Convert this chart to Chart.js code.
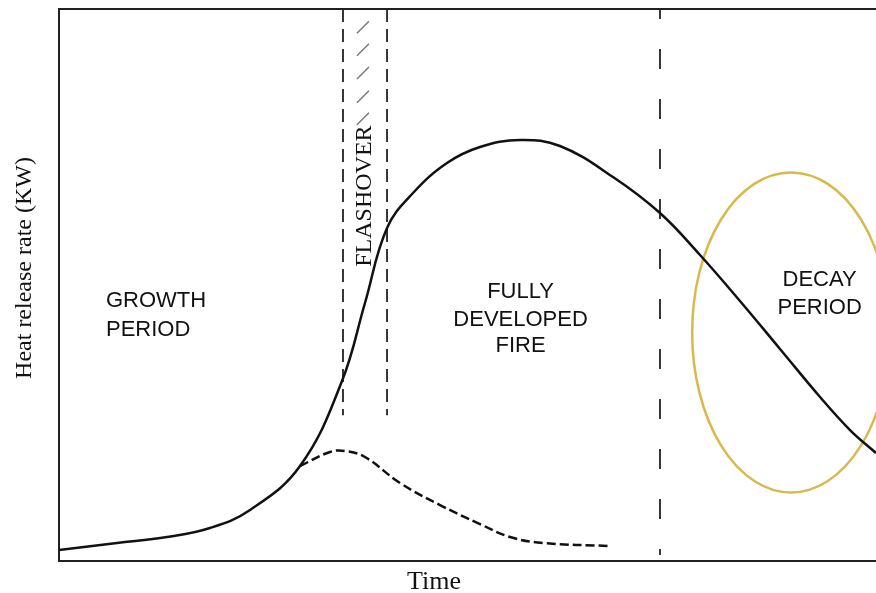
<!DOCTYPE html>
<html>
<head>
<meta charset="utf-8">
<script src="https://cdn.jsdelivr.net/npm/chart.js@4"></script>
<style>
  html, body { margin: 0; padding: 0; background: #fff; }
  #wrap { width: 876px; height: 593px; }
</style>
</head>
<body>
<div id="wrap"><canvas id="c" width="876" height="593"></canvas></div>
<script>
// ---- Data (time and heat release rate in normalized units 0..100) ----
const timeSolid = [0, 7.1, 13.22, 18.48, 23.38, 29.5, 34.64, 37.45, 40.15, 43.33, 47.49, 51.53, 56.43, 61.32, 67.81, 73.56, 78.46, 83.35, 88.25, 93.15, 96.82, 100];
const hrrSolid  = [2.0, 3.26, 4.35, 5.98, 9.24, 17.21, 32.61, 46.74, 60.33, 66.67, 72.1, 75.0, 76.27, 75.18, 69.57, 63.04, 55.43, 47.1, 38.41, 29.71, 23.73, 19.57];

const timeDashed = [29.5, 33.17, 35.01, 37.45, 41.74, 46.63, 51.53, 55.2, 59.24, 67.44];
const hrrDashed  = [17.21, 19.75, 19.93, 18.84, 14.13, 10.14, 6.7, 4.35, 3.26, 2.72];

const phaseBoundaryTime   = [34.76, 40.15, 73.56];
const phaseBoundaryBottom = [26.4, 26.4, 1.1];
const axisTop = 100;

const hatchTime = 37.2;
const hatchHrr  = [96.7, 92.6, 88.4, 84.1, 80.1];

const regionLabels = [
  { lines: ['GROWTH', 'PERIOD'], t: 5.75, v: [47.1, 41.8], align: 'left' },
  { lines: ['FULLY', 'DEVELOPED', 'FIRE'], t: 56.5, v: [48.7, 43.75, 39.0], align: 'center' },
  { lines: ['DECAY', 'PERIOD'], t: 93.1, v: [51.0, 45.9], align: 'center' }
];
const flashoverLabel = { text: 'FLASHOVER', t: 37.45, v: 66.1 };
const decayEllipse = { t: 89.6, v: 41.4, rt: 12.1, rv: 29.0 };

const xTitle = 'Time';
const yTitle = 'Heat release rate (KW)';

const toXY = (ts, vs) => ts.map((t, i) => ({ x: t, y: vs[i] }));

const boundaryDatasets = phaseBoundaryTime.map((t, i) => ({
  data: [{ x: t, y: axisTop }, { x: t, y: phaseBoundaryBottom[i] }],
  borderColor: '#222',
  borderWidth: 1.8,
  borderDash: i < 2 ? [13, 7] : [20, 30],
  borderDashOffset: i < 2 ? 0 : 10,
  pointRadius: 0,
  tension: 0
}));

const decorPlugin = {
  id: 'decor',
  beforeDatasetsDraw(chart) {
    const { ctx, scales: { x, y } } = chart;
    ctx.save();
    const cx = x.getPixelForValue(decayEllipse.t);
    const cy = y.getPixelForValue(decayEllipse.v);
    const rx = Math.abs(x.getPixelForValue(decayEllipse.t + decayEllipse.rt) - cx);
    const ry = Math.abs(y.getPixelForValue(decayEllipse.v + decayEllipse.rv) - cy);
    ctx.strokeStyle = '#d8b94c';
    ctx.lineWidth = 2.5;
    ctx.beginPath();
    ctx.ellipse(cx, cy, rx, ry, 0, 0, Math.PI * 2);
    ctx.stroke();
    ctx.restore();
  },
  afterDraw(chart) {
    const { ctx, chartArea, scales: { x, y } } = chart;
    ctx.save();
    ctx.strokeStyle = '#222';
    ctx.lineWidth = 2;
    ctx.beginPath();
    ctx.moveTo(chartArea.left - 1, chartArea.top);
    ctx.lineTo(chartArea.right, chartArea.top);
    ctx.stroke();

    ctx.strokeStyle = '#777';
    ctx.lineWidth = 1.4;
    const hx = x.getPixelForValue(hatchTime);
    hatchHrr.forEach(v => {
      const hy = y.getPixelForValue(v);
      ctx.beginPath();
      ctx.moveTo(hx - 6, hy + 6);
      ctx.lineTo(hx + 6, hy - 6);
      ctx.stroke();
    });

    ctx.fillStyle = '#111';
    ctx.font = '22px "Liberation Sans", Arial, sans-serif';
    ctx.textBaseline = 'middle';
    regionLabels.forEach(l => {
      ctx.textAlign = l.align;
      const px = x.getPixelForValue(l.t);
      l.lines.forEach((s, i) => ctx.fillText(s, px, y.getPixelForValue(l.v[i])));
    });

    ctx.font = '24px "Liberation Serif", "Times New Roman", serif';
    ctx.save();
    ctx.translate(x.getPixelForValue(flashoverLabel.t), y.getPixelForValue(flashoverLabel.v));
    ctx.rotate(-Math.PI / 2);
    ctx.textAlign = 'center';
    ctx.textBaseline = 'middle';
    ctx.fillText(flashoverLabel.text, 0, 0);
    ctx.restore();

    ctx.save();
    ctx.font = '24px "Liberation Serif", "Times New Roman", serif';
    ctx.translate(25, 268);
    ctx.rotate(-Math.PI / 2);
    ctx.textAlign = 'center';
    ctx.textBaseline = 'middle';
    ctx.fillText(yTitle, 0, 0);
    ctx.restore();

    ctx.font = '26px "Liberation Serif", "Times New Roman", serif';
    ctx.textAlign = 'center';
    ctx.textBaseline = 'alphabetic';
    ctx.fillText(xTitle, 434, 589);
    ctx.restore();
  }
};

new Chart(document.getElementById('c'), {
  type: 'line',
  data: {
    datasets: [
      {
        data: toXY(timeSolid, hrrSolid),
        borderColor: '#111',
        borderWidth: 2.5,
        pointRadius: 0,
        tension: 0.4
      },
      {
        data: toXY(timeDashed, hrrDashed),
        borderColor: '#111',
        borderWidth: 2.5,
        borderDash: [9, 4],
        pointRadius: 0,
        tension: 0.4
      },
      ...boundaryDatasets
    ]
  },
  options: {
    responsive: false,
    devicePixelRatio: 1,
    animation: false,
    layout: { padding: { left: 59, top: 9, right: 0, bottom: 32 } },
    plugins: { legend: { display: false }, tooltip: { enabled: false } },
    scales: {
      x: {
        type: 'linear', min: 0, max: 100,
        ticks: { display: false },
        grid: { display: false, drawTicks: false },
        border: { display: true, color: '#222', width: 2 }
      },
      y: {
        type: 'linear', min: 0, max: 100,
        ticks: { display: false },
        grid: { display: false, drawTicks: false },
        border: { display: true, color: '#222', width: 2 }
      }
    }
  },
  plugins: [decorPlugin]
});
</script>
</body>
</html>
